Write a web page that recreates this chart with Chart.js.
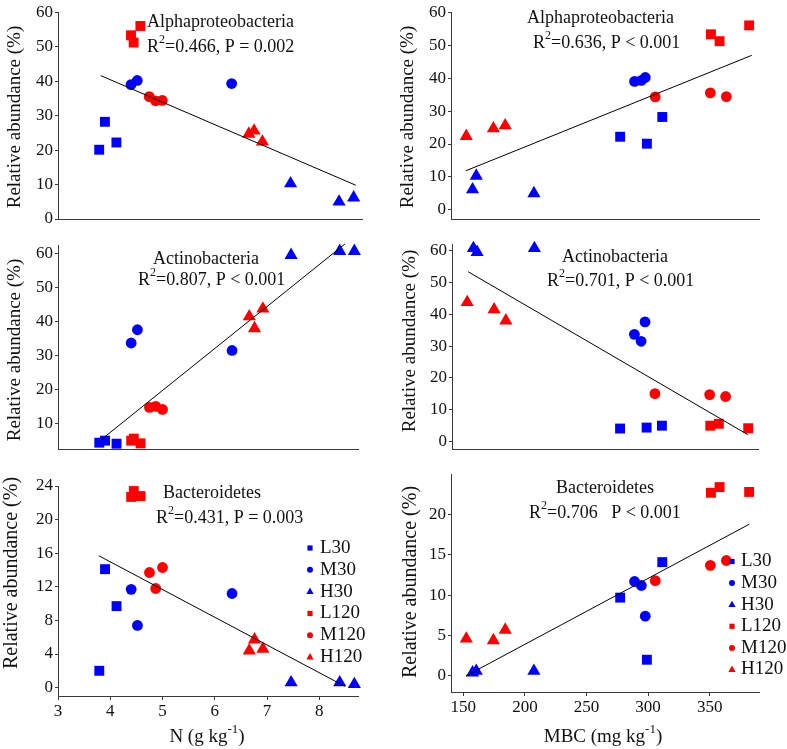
<!DOCTYPE html>
<html>
<head>
<meta charset="utf-8">
<title>Relative abundance vs N and MBC</title>
<script src="https://cdn.jsdelivr.net/npm/chart.js@4.4.1/dist/chart.umd.min.js"></script>
<style>
  html, body { margin: 0; padding: 0; background: #fff; width: 787px; height: 749px; overflow: hidden; }
  canvas { position: absolute; }
</style>
</head>
<body>
<canvas id="c1"></canvas>
<canvas id="c2"></canvas>
<canvas id="c3"></canvas>
<canvas id="c4"></canvas>
<canvas id="c5"></canvas>
<canvas id="c6"></canvas>
<script>
// treatments, 3 plots each
const groups = ['L30', 'M30', 'H30', 'L120', 'M120', 'H120'];
const groupColors = ['#0000ff', '#0000ff', '#0000ff', '#ff0000', '#ff0000', '#ff0000'];
const groupShapes = ['rect', 'circle', 'triangle', 'rect', 'circle', 'triangle'];

// soil N (g kg-1), one row per treatment
const soilN = [
  [3.79, 3.90, 4.12],
  [4.40, 4.52, 6.33],
  [7.46, 8.39, 8.67],
  [4.58, 4.40, 4.45],
  [4.75, 4.87, 5.00],
  [6.66, 6.76, 6.92]
];
// microbial biomass C (mg kg-1)
const mbc = [
  [299.0, 311.5, 277.3],
  [289.0, 297.7, 294.5],
  [160.5, 207.3, 157.5],
  [382.0, 351.0, 358.0],
  [350.5, 305.8, 363.5],
  [174.4, 184.0, 152.4]
];
// relative abundance (%)
const alphaAbund = [
  [20.1, 28.2, 22.2],
  [39.0, 40.2, 39.3],
  [10.3, 5.0, 6.2],
  [56.0, 53.3, 51.2],
  [35.5, 34.3, 34.4],
  [24.7, 25.6, 22.4]
];
const actinoAbund = [
  [4.3, 4.9, 4.0],
  [33.7, 37.6, 31.5],
  [59.6, 60.8, 60.8],
  [4.1, 4.9, 5.5],
  [14.7, 15.0, 14.1],
  [41.5, 38.0, 43.8]
];
const bacterAbund = [
  [2.0, 14.1, 9.7],
  [11.7, 7.4, 11.2],
  [0.6, 0.6, 0.4],
  [22.8, 22.7, 23.4],
  [13.7, 11.8, 14.3],
  [4.4, 5.7, 4.6]
];

// fitted lines, end points [x, y]
const fitAlphaN = [[3.82, 41.6], [8.71, 9.8]];
const fitActinoN = [[3.82, 5.1], [8.49, 62.9]];
const fitBacterN = [[3.78, 15.7], [8.49, 0.15]];
const fitAlphaMBC = [[152.2, 11.9], [384.1, 46.9]];
const fitActinoMBC = [[153.3, 53.4], [381.6, 2.1]];
const fitBacterMBC = [[152.2, 0.0], [382.1, 18.8]];

// tick labels
const nTicks = [3, 4, 5, 6, 7, 8];
const mbcTicks = [150, 200, 250, 300, 350];
const ticks60 = [0, 10, 20, 30, 40, 50, 60];
const ticks10to60 = [10, 20, 30, 40, 50, 60];
const ticksBactN = [0, 4, 8, 12, 16, 20, 24];
const ticksBactMBC = [0, 5, 10, 15, 20];

const yTitle = 'Relative abundance (%)';
const nTitle = 'N (g kg^{-1})';
const mbcTitle = 'MBC (mg kg^{-1})';

const FONT = '"Liberation Serif", "Times New Roman", serif';
const AXIS = '#3a3a3a';
const INK = '#111';

function drawRich(ctx, text, x, y, size, align, rotate) {
  const parts = [];
  const re = /\^\{([^}]*)\}|\^(.)/g;
  let last = 0, m;
  while ((m = re.exec(text))) {
    if (m.index > last) parts.push({ t: text.slice(last, m.index), sup: false });
    parts.push({ t: m[1] !== undefined ? m[1] : m[2], sup: true });
    last = re.lastIndex;
  }
  if (last < text.length) parts.push({ t: text.slice(last), sup: false });
  const supSize = Math.round(size * 0.68);
  let total = 0;
  parts.forEach(p => {
    ctx.font = (p.sup ? supSize : size) + 'px ' + FONT;
    p.w = ctx.measureText(p.t).width;
    total += p.w;
  });
  ctx.save();
  ctx.translate(x, y);
  if (rotate) ctx.rotate(-Math.PI / 2);
  let cx = align === 'center' ? -total / 2 : 0;
  ctx.textBaseline = 'middle';
  ctx.textAlign = 'left';
  parts.forEach(p => {
    ctx.font = (p.sup ? supSize : size) + 'px ' + FONT;
    ctx.fillText(p.t, cx, p.sup ? -size * 0.38 : 0);
    cx += p.w;
  });
  ctx.restore();
}

function drawMarker(ctx, shape, x, y) {
  ctx.beginPath();
  if (shape === 'rect') ctx.rect(x - 2.6, y - 2.6, 5.2, 5.2);
  else if (shape === 'circle') ctx.arc(x, y, 3, 0, Math.PI * 2);
  else { ctx.moveTo(x, y - 4); ctx.lineTo(x + 3.6, y + 2.4); ctx.lineTo(x - 3.6, y + 2.4); ctx.closePath(); }
  ctx.fill();
}

const textPlugin = {
  id: 'panelText',
  afterDraw(chart, args, opts) {
    const ctx = chart.ctx;
    const [bx, by] = opts.origin;
    ctx.save();
    ctx.fillStyle = INK;
    opts.items.forEach(it => drawRich(ctx, it.text, it.x - bx, it.y - by, it.size, it.align, it.rotate));
    if (opts.legend) {
      const lg = opts.legend;
      groups.forEach((g, i) => {
        const yy = lg.y0 + i * lg.step - by;
        ctx.fillStyle = groupColors[i];
        drawMarker(ctx, groupShapes[i], lg.mx - bx, yy);
        ctx.fillStyle = INK;
        drawRich(ctx, g, lg.tx - bx, yy, lg.size, 'left', false);
      });
    }
    ctx.restore();
  }
};

const panels = [
  { id: 'c1', box: [0, 0, 390, 232], area: [58, 10, 362, 219], xs: soilN, ys: alphaAbund, fit: fitAlphaN,
    x: [3, 8.83, nTicks], y: [0, 60, ticks60], showX: false,
    items: [
      { text: 'Alphaproteobacteria', x: 147, y: 22, size: 18, align: 'left' },
      { text: 'R^2=0.466, P = 0.002', x: 147, y: 47, size: 18, align: 'left' },
      { text: yTitle, x: 15, y: 117, size: 19, align: 'center', rotate: true }
    ] },
  { id: 'c2', box: [390, 0, 397, 232], area: [451, 10, 759, 226], xs: mbc, ys: alphaAbund, fit: fitAlphaMBC,
    x: [140, 390, mbcTicks], y: [-3, 60, ticks60], showX: false,
    items: [
      { text: 'Alphaproteobacteria', x: 527, y: 18, size: 18, align: 'left' },
      { text: 'R^2=0.636, P < 0.001', x: 533, y: 43, size: 18, align: 'left' },
      { text: yTitle, x: 408, y: 117, size: 19, align: 'center', rotate: true }
    ] },
  { id: 'c3', box: [0, 232, 390, 230], area: [58, 245, 358, 455], xs: soilN, ys: actinoAbund, fit: fitActinoN,
    x: [3, 8.74, nTicks], y: [2.2, 62.6, ticks10to60], showX: false,
    items: [
      { text: 'Actinobacteria', x: 153, y: 259, size: 18, align: 'left' },
      { text: 'R^2=0.807, P < 0.001', x: 138, y: 280, size: 18, align: 'left' },
      { text: yTitle, x: 15, y: 350, size: 19, align: 'center', rotate: true }
    ] },
  { id: 'c4', box: [390, 232, 397, 230], area: [452, 243, 758, 457], xs: mbc, ys: actinoAbund, fit: fitActinoMBC,
    x: [140, 390, mbcTicks], y: [-2.7, 62.1, ticks60], showX: false,
    items: [
      { text: 'Actinobacteria', x: 562, y: 257, size: 18, align: 'left' },
      { text: 'R^2=0.701, P < 0.001', x: 547, y: 281, size: 18, align: 'left' },
      { text: yTitle, x: 410, y: 341, size: 19, align: 'center', rotate: true }
    ] },
  { id: 'c5', box: [0, 462, 390, 287], area: [58, 486, 358, 696], xs: soilN, ys: bacterAbund, fit: fitBacterN,
    x: [3, 8.74, nTicks], y: [-1, 24, ticksBactN], showX: true,
    items: [
      { text: 'Bacteroidetes', x: 163, y: 493, size: 18, align: 'left' },
      { text: 'R^2=0.431, P = 0.003', x: 156, y: 518, size: 18, align: 'left' },
      { text: yTitle, x: 12, y: 573, size: 20, align: 'center', rotate: true },
      { text: nTitle, x: 207, y: 737, size: 19, align: 'center' }
    ],
    legend: { mx: 310, tx: 320, y0: 548, step: 21.8, size: 19 } },
  { id: 'c6', box: [390, 462, 397, 287], area: [451, 474, 759, 692], xs: mbc, ys: bacterAbund, fit: fitBacterMBC,
    x: [140, 390, mbcTicks], y: [-2, 25, ticksBactMBC], showX: true,
    items: [
      { text: 'Bacteroidetes', x: 556, y: 488, size: 18, align: 'left' },
      { text: 'R^2=0.706   P < 0.001', x: 529, y: 513, size: 18, align: 'left' },
      { text: yTitle, x: 411, y: 582, size: 20, align: 'center', rotate: true },
      { text: mbcTitle, x: 603, y: 737, size: 19, align: 'center' }
    ],
    legend: { mx: 732, tx: 741, y0: 561.5, step: 21.6, size: 19 } }
];

const radii = { rect: 7, circle: 5.4, triangle: 7.6 };

panels.forEach(p => {
  const cv = document.getElementById(p.id);
  const [bx, by, bw, bh] = p.box;
  const [L, T, R, B] = p.area;
  cv.width = bw; cv.height = bh;
  cv.style.left = bx + 'px'; cv.style.top = by + 'px';
  cv.style.width = bw + 'px'; cv.style.height = bh + 'px';

  const datasets = [{
    type: 'line',
    data: p.fit.map(([x, y]) => ({ x, y })),
    borderColor: '#000', borderWidth: 1, pointRadius: 0, order: 0, clip: false
  }];
  groups.forEach((g, i) => {
    datasets.push({
      type: 'scatter',
      label: g,
      data: p.xs[i].map((x, k) => ({ x, y: p.ys[i][k] })),
      pointStyle: groupShapes[i],
      pointRadius: radii[groupShapes[i]],
      backgroundColor: groupColors[i],
      borderWidth: 0,
      order: 1,
      clip: false
    });
  });

  new Chart(cv, {
    type: 'scatter',
    data: { datasets },
    options: {
      responsive: false,
      animation: false,
      devicePixelRatio: 1,
      layout: { padding: { left: 0, top: T - by, right: bx + bw - R, bottom: 0 } },
      plugins: {
        legend: { display: false },
        tooltip: { enabled: false },
        panelText: { origin: [bx, by], items: p.items, legend: p.legend }
      },
      scales: {
        x: {
          type: 'linear', min: p.x[0], max: p.x[1],
          afterBuildTicks: s => { s.ticks = p.x[2].map(v => ({ value: v })); },
          afterFit: s => { s.height = by + bh - B; },
          ticks: { display: p.showX, color: INK, padding: 1, maxRotation: 0, font: { family: FONT, size: 17 } },
          grid: { display: true, drawOnChartArea: false, drawTicks: p.showX, tickLength: 4, color: AXIS },
          border: { display: true, color: AXIS, width: 1 }
        },
        y: {
          type: 'linear', min: p.y[0], max: p.y[1],
          afterBuildTicks: s => { s.ticks = p.y[2].map(v => ({ value: v })); },
          afterFit: s => { s.width = L - bx; },
          ticks: { color: INK, padding: 2, font: { family: FONT, size: 17 } },
          grid: { display: true, drawOnChartArea: false, drawTicks: true, tickLength: 3, color: AXIS },
          border: { display: true, color: AXIS, width: 1 }
        }
      }
    },
    plugins: [textPlugin]
  });
});
</script>
</body>
</html>
